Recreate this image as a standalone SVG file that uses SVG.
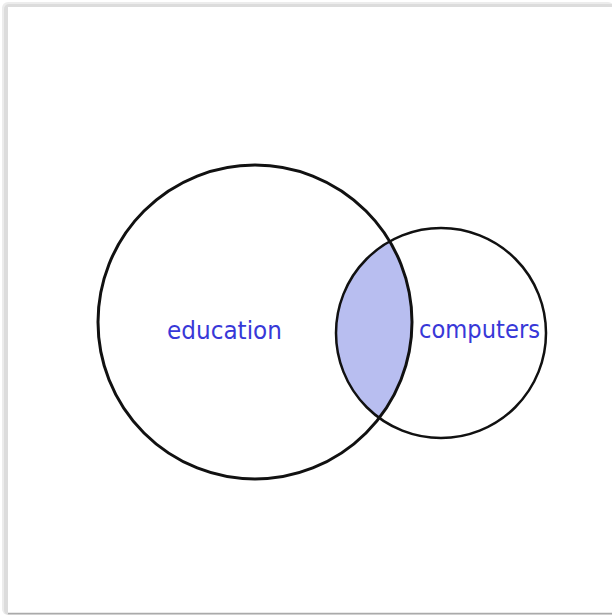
<svg xmlns="http://www.w3.org/2000/svg" width="612" height="615" viewBox="0 0 612 615">
<style>
.c{fill:none;stroke:#111;}
.t{font-family:"DejaVu Sans","Liberation Sans",sans-serif;font-size:25px;fill:#3838d8;}
</style>
<defs>
<clipPath id="big"><circle cx="255" cy="322" r="157"/></clipPath>
</defs>
<rect width="612" height="615" fill="#ffffff"/>
<rect x="2" y="2" width="612" height="613" rx="6" fill="#ececec"/>
<rect x="4" y="4" width="612" height="611" rx="5" fill="#dcdcdc"/>
<rect x="8" y="7" width="610" height="606" fill="#ffffff"/>
<line x1="8" y1="613.5" x2="612" y2="613.5" stroke="#aaaaaa" stroke-width="1.5"/>
<g id="overlap">
<circle cx="441" cy="333" r="105" fill="#b8bef0" clip-path="url(#big)"/>
</g>
<g id="education">
<circle class="c" cx="255" cy="322" r="157" stroke-width="3"/>
<text class="t" x="167" y="339" textLength="115" lengthAdjust="spacingAndGlyphs">education</text>
</g>
<g id="computers">
<circle class="c" cx="441" cy="333" r="105" stroke-width="2.5"/>
<text class="t" x="419" y="338" textLength="121" lengthAdjust="spacingAndGlyphs">computers</text>
</g>
<g id="connectors"></g>
</svg>
